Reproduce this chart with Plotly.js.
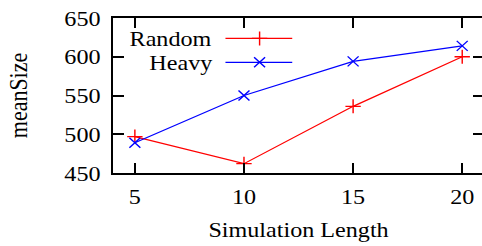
<!DOCTYPE html>
<html>
<head>
<meta charset="utf-8">
<script src="https://cdn.plot.ly/plotly-3.0.1.min.js"></script>
<style>
html,body{margin:0;padding:0;overflow:hidden;background:#fff;width:482px;height:246px;}
#chart{width:447px;height:246px;transform:scaleX(1.0976);transform-origin:0 0;}
</style>
</head>
<body>
<div id="chart"></div>
<script>
// Data
const simLength = [5, 10, 15, 20];
const randomSize = [497, 462, 536, 600];
const heavySize = [489, 550, 594, 614];
const seriesNames = ['Random', 'Heavy'];
const xTicks = [5, 10, 15, 20];
const yTicks = [450, 500, 550, 600, 650];

const FONT = '"Liberation Serif", "Times New Roman", Times, serif';
const RED = '#ff0000';
const BLUE = '#0000ff';

const traces = [
  {
    x: simLength, y: randomSize, name: seriesNames[0], type: 'scatter', mode: 'lines+markers',
    line: {color: RED, width: 1.2},
    marker: {symbol: 'cross-thin-open', size: 10, color: RED, line: {color: RED, width: 1.3}},
    showlegend: false, cliponaxis: false
  },
  {
    x: simLength, y: heavySize, name: seriesNames[1], type: 'scatter', mode: 'lines+markers',
    line: {color: BLUE, width: 1.2},
    marker: {symbol: 'x-thin-open', size: 10, color: BLUE, line: {color: BLUE, width: 1.3}},
    showlegend: false, cliponaxis: false
  },
  // legend keys (drawn on a hidden 0..1 overlay axis)
  {
    x: [0.303, 0.395, 0.483], y: [0.868, 0.868, 0.868], xaxis: 'x2', yaxis: 'y2',
    type: 'scatter', mode: 'lines', line: {color: RED, width: 1.2}, showlegend: false, hoverinfo: 'skip'
  },
  {
    x: [0.395], y: [0.868], xaxis: 'x2', yaxis: 'y2', type: 'scatter', mode: 'markers',
    marker: {symbol: 'cross-thin-open', size: 10, color: RED, line: {color: RED, width: 1.3}},
    showlegend: false, hoverinfo: 'skip'
  },
  {
    x: [0.303, 0.395, 0.483], y: [0.714, 0.714, 0.714], xaxis: 'x2', yaxis: 'y2',
    type: 'scatter', mode: 'lines', line: {color: BLUE, width: 1.2}, showlegend: false, hoverinfo: 'skip'
  },
  {
    x: [0.395], y: [0.714], xaxis: 'x2', yaxis: 'y2', type: 'scatter', mode: 'markers',
    marker: {symbol: 'x-thin-open', size: 10, color: BLUE, line: {color: BLUE, width: 1.3}},
    showlegend: false, hoverinfo: 'skip'
  }
];

const axisCommon = {
  showgrid: false, zeroline: false, showline: true, linecolor: '#000', linewidth: 2,
  mirror: 'ticks', ticks: 'inside', ticklen: 10, tickwidth: 2, tickcolor: '#000',
  tickfont: {family: FONT, size: 22, color: '#000'}
};

const layout = {
  width: 446.4, height: 246,
  margin: {l: 103.4, r: 5, t: 17.7, b: 72.5},
  paper_bgcolor: '#fff', plot_bgcolor: '#fff',
  font: {family: FONT, size: 22, color: '#000'},
  showlegend: false,
  xaxis: Object.assign({}, axisCommon, {
    range: [4, 21], tickvals: xTicks, ticktext: xTicks.map(String),
    ticklabelstandoff: 3,
    title: {text: 'Simulation Length', font: {family: FONT, size: 22, color: '#000'}, standoff: 13}
  }),
  yaxis: Object.assign({}, axisCommon, {
    range: [450, 650], tickvals: yTicks, ticktext: yTicks.map(String),
    ticklabelstandoff: 5,
    title: {text: 'meanSize', font: {family: FONT, size: 22, color: '#000'}, standoff: 27}
  }),
  xaxis2: {overlaying: 'x', range: [0, 1], visible: false, fixedrange: true},
  yaxis2: {overlaying: 'y', range: [0, 1], visible: false, fixedrange: true},
  annotations: [
    {text: seriesNames[0], xref: 'paper', yref: 'paper', x: 0.272, y: 0.868, xanchor: 'right', yanchor: 'middle',
     showarrow: false, font: {family: FONT, size: 22, color: '#000'}},
    {text: seriesNames[1], xref: 'paper', yref: 'paper', x: 0.272, y: 0.714, xanchor: 'right', yanchor: 'middle',
     showarrow: false, font: {family: FONT, size: 22, color: '#000'}}
  ]
};

Plotly.newPlot('chart', traces, layout, {staticPlot: true, displayModeBar: false});
</script>
</body>
</html>
